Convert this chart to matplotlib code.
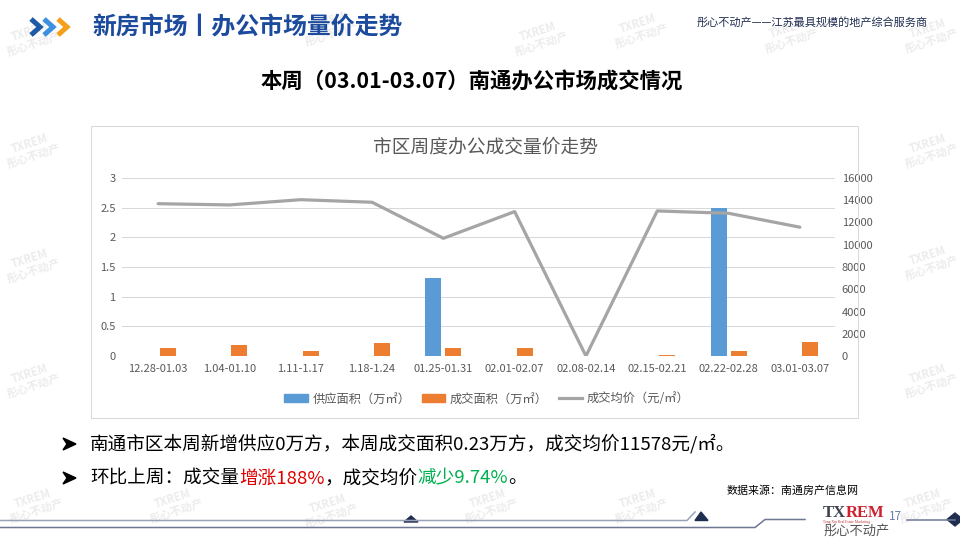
#!/usr/bin/env python3
"""Nantong office market weekly supply / deal / price chart (slide recreation)."""

import numpy as np
import matplotlib
matplotlib.use("Agg")
import matplotlib.pyplot as plt
from matplotlib.lines import Line2D
from matplotlib.patches import Rectangle, Polygon, Patch
from matplotlib.transforms import IdentityTransform

plt.rcParams["font.family"] = ["Noto Sans CJK SC", "DejaVu Sans"]

# ---- data ----
weeks = ["12.28-01.03", "1.04-01.10", "1.11-1.17", "1.18-1.24", "01.25-01.31",
         "02.01-02.07", "02.08-02.14", "02.15-02.21", "02.22-02.28", "03.01-03.07"]
supply = [0, 0, 0, 0, 1.32, 0, 0, 0, 2.5, 0]                  # 万㎡
deal = [0.14, 0.19, 0.085, 0.22, 0.14, 0.14, 0, 0.02, 0.08, 0.23]  # 万㎡
price = [13690, 13580, 14050, 13820, 10580, 12980, 0, 13040, 12827, 11578]  # 元/㎡
left_ticks = [0, 0.5, 1, 1.5, 2, 2.5, 3]
left_labels = ["0", "0.5", "1", "1.5", "2", "2.5", "3"]
right_ticks = [0, 2000, 4000, 6000, 8000, 10000, 12000, 14000, 16000]

series_names = ["供应面积（万㎡）", "成交面积（万㎡）", "成交均价（元/㎡）"]

BLUE = "#5B9BD5"
ORANGE = "#ED7D31"
GRAY = "#A5A5A5"
TXT = "#595959"
W, H = 960, 540

fig = plt.figure(figsize=(W / 100, H / 100), dpi=100)
PX = IdentityTransform()


def py(y):
    """image y (top-down) -> display y"""
    return H - y


def runs(x, y, parts, size, **kw):
    """draw coloured text runs one after another on one baseline"""
    r = fig.canvas.get_renderer()
    for s, c in parts:
        t = fig.text(x, py(y), s, color=c, fontsize=size, va="baseline",
                     ha="left", transform=PX, **kw)
        x = t.get_window_extent(r).x1


# faint watermarks
marks = [(32, 38), (330, 28), (540, 38), (640, 30), (790, 35), (930, 35),
         (32, 150), (32, 265), (32, 380), (35, 505),
         (930, 150), (930, 262), (930, 380), (925, 505),
         (175, 505), (330, 510), (490, 505), (640, 505)]
for mx, my in marks:
    fig.text(mx, py(my), "TXREM\n彤心不动产", transform=PX, fontsize=8,
             color="#ECECEC", rotation=18, ha="center", va="center",
             linespacing=1.0, fontweight="bold", zorder=0)

# header chevrons
for x0, col in [(31, "#1F5AA6"), (44, "#3D8FE0"), (58, "#F5A01A")]:
    fig.lines.append(Line2D([x0, x0 + 9, x0], [py(19), py(27), py(35)],
                            transform=PX, color=col, lw=3.6,
                            solid_joinstyle="miter", solid_capstyle="butt"))

fig.text(92, py(27), "新房市场丨办公市场量价走势", transform=PX, fontsize=17.2,
         fontweight="bold", color="#1C4B9E", va="center", ha="left")
fig.text(697, py(22), "彤心不动产——江苏最具规模的地产综合服务商", transform=PX,
         fontsize=8, color="#1F2D50", va="center", ha="left")
fig.text(472, py(82), "本周（03.01-03.07）南通办公市场成交情况", transform=PX,
         fontsize=15.4, fontweight="bold", color="black", va="center", ha="center")

# chart frame
fig.patches.append(Rectangle((91, py(418)), 767, 292, transform=PX, fill=False,
                             ec="#D9D9D9", lw=0.75))
fig.text(486, py(147), "市区周度办公成交量价走势", transform=PX, fontsize=13.5,
         color=TXT, va="center", ha="center")

ax = fig.add_axes([122.5 / W, 1 - 356 / H, 713 / W, 178 / H])
x = np.arange(len(weeks))
ax.bar(x - 0.14, supply, 0.225, color=BLUE, zorder=2)
ax.bar(x + 0.14, deal, 0.225, color=ORANGE, zorder=2)
ax.set_xlim(-0.5, len(weeks) - 0.5)
ax.set_ylim(0, 3)
ax.set_yticks(left_ticks)
ax.set_yticklabels(left_labels)
ax.set_xticks(x)
ax.set_xticklabels(weeks)
ax.set_axisbelow(True)
ax.yaxis.grid(True, color="#D9D9D9", lw=0.75)
ax.tick_params(axis="y", length=0, labelsize=8, labelcolor=TXT, pad=5)
ax.tick_params(axis="x", length=0, labelsize=8, labelcolor=TXT, pad=6)
for s in ax.spines.values():
    s.set_visible(False)

ax2 = ax.twinx()
ax2.plot(x, price, color=GRAY, lw=2.3, solid_joinstyle="round",
         solid_capstyle="round")
ax2.set_ylim(0, 16000)
ax2.set_yticks(right_ticks)
ax2.tick_params(axis="y", length=0, labelsize=8, labelcolor=TXT, pad=4.5)
for s in ax2.spines.values():
    s.set_visible(False)

handles = [Patch(color=BLUE), Patch(color=ORANGE), Line2D([], [], color=GRAY, lw=2.3)]
fig.legend(handles, series_names, loc="center", bbox_to_anchor=(487 / W, 1 - 399 / H),
           ncol=3, frameon=False, fontsize=8.8, handlelength=1.9, handleheight=0.6,
           columnspacing=0.9, handletextpad=0.4, labelcolor=TXT)

# bullets: filled arrowheads
for by in (444, 478):
    fig.patches.append(Polygon([(63, py(by - 6)), (76, py(by)), (63, py(by + 6)),
                                (67, py(by))], closed=True, transform=PX,
                               color="black"))
runs(90, 449.5, [("南通市区本周新增供应0万方，本周成交面积0.23万方，成交均价11578元/㎡。", "black")], 13.4)
runs(90, 483.5, [("环比上周：成交量", "black"), ("增涨188%", "#E00000"),
                 ("，成交均价", "black"), ("减少9.74%", "#00B050"), ("。", "black")], 13.4)

fig.text(727, py(491), "数据来源：南通房产信息网", transform=PX, fontsize=7.9,
         color="black", va="center", ha="left")

# footer lines
LC1, LC2 = "#9AA2B8", "#6E7893"
fig.lines.append(Line2D([0, 687, 695], [py(520.5), py(520.5), py(512)], transform=PX,
                        color=LC1, lw=1.1))
fig.patches.append(Polygon([(404, py(522)), (411, py(516)), (418, py(522))],
                           closed=True, transform=PX, color="#1F2D50"))
fig.patches.append(Polygon([(695, py(520.5)), (701, py(512)), (708, py(520.5))],
                           closed=True, transform=PX, color="#1F2D50"))
fig.lines.append(Line2D([0, 755, 765, 805], [py(527.5), py(527.5), py(519.5), py(519.5)],
                        transform=PX, color=LC2, lw=1.1))
fig.lines.append(Line2D([907, 955], [py(519.5), py(519.5)], transform=PX,
                        color=LC2, lw=1.1))
fig.patches.append(Polygon([(947, py(519.5)), (955, py(513)), (963, py(519.5)), (955, py(526))],
                           closed=True, transform=PX, color="#1F2D50"))

# footer logo
runs(823, 517, [("TX", "#3F4350"), ("REM", "#D0202E")], 12,
     family=["Liberation Serif"], fontweight="bold")
fig.text(823, py(521.5), "Tong Xin Real Estate Marketing", transform=PX, fontsize=2.6,
         color="#C03030", va="center", ha="left", family=["Liberation Serif"])
fig.text(823, py(531), "彤心不动产", transform=PX, fontsize=9.5, color="#555555",
         va="center", ha="left")
fig.text(889, py(516), "17", transform=PX, fontsize=8.5, color="#6B7FA8",
         va="center", ha="left")

fig.savefig("out.png", dpi=100)
